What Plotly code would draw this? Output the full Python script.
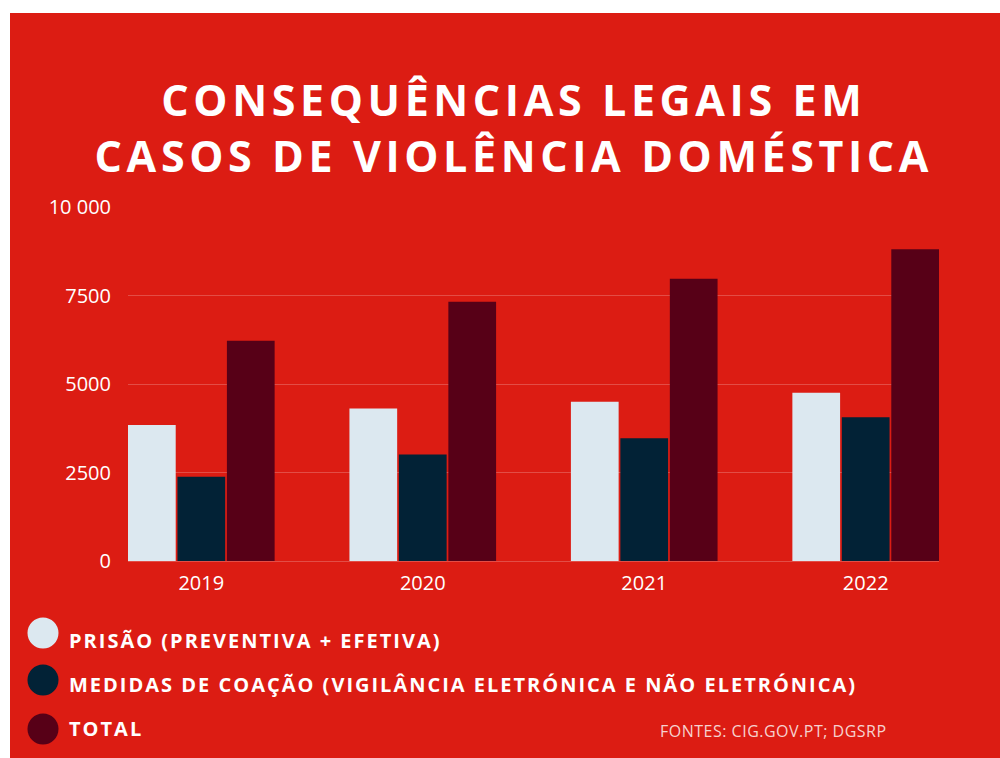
import plotly.graph_objects as go

# ---- data ----
years = ["2019", "2020", "2021", "2022"]
prisao = [3840, 4310, 4500, 4750]
medidas = [2380, 3010, 3470, 4060]
total = [6220, 7320, 7970, 8810]

series_names = [
    "PRISÃO (PREVENTIVA + EFETIVA)",
    "MEDIDAS DE COAÇÃO (VIGILÂNCIA ELETRÓNICA E NÃO ELETRÓNICA)",
    "TOTAL",
]
series_colors = ["#DCE8F0", "#022236", "#570017"]
series_values = [prisao, medidas, total]

ytick_vals = [0, 2500, 5000, 7500, 10000]
ytick_text = ["0", "2500", "5000", "7500", "10 000"]

title_lines = ["CONSEQUÊNCIAS LEGAIS EM", "CASOS DE VIOLÊNCIA DOMÉSTICA"]
source_text = "FONTES: CIG.GOV.PT; DGSRP"

# ---- layout geometry ----
W, H = 1000, 758
L, R, T, B = 128, 61, 207, 197
PW, PH = W - L - R, H - T - B
BG = "#DC1C13"


def px(x):
    return (x - L) / PW


def py(y):
    return (H - B - y) / PH


fig = go.Figure()
for name, color, vals in zip(series_names, series_colors, series_values):
    fig.add_trace(go.Bar(x=years, y=vals, name=name, marker_color=color,
                         marker_line_width=0))

shapes = [
    # white frame strips (top and left)
    dict(type="rect", xref="paper", yref="paper", x0=px(0), x1=px(W), y0=py(13), y1=py(0),
         fillcolor="white", line_width=0, layer="above"),
    dict(type="rect", xref="paper", yref="paper", x0=px(0), x1=px(10), y0=py(H), y1=py(0),
         fillcolor="white", line_width=0, layer="above"),
]

annotations = []
# title (annotation index 0)
annotations.append(dict(text="<br>".join(title_lines), xref="paper", yref="paper",
                        x=px(514), y=py(127), xanchor="center", yanchor="middle",
                        align="center", showarrow=False, borderpad=0,
                        font=dict(family="Open Sans", size=43, color="white", weight=700)))

# custom legend (annotation indices 1..3)
leg_circle_y = [633, 680, 729]
leg_text_y = [640, 684, 728]
for name, color, cy, ty in zip(series_names, series_colors, leg_circle_y, leg_text_y):
    r = 15.5
    shapes.append(dict(type="circle", xref="paper", yref="paper",
                       x0=px(43 - r), x1=px(43 + r), y0=py(cy + r), y1=py(cy - r),
                       fillcolor=color, line_width=0))
    annotations.append(dict(text=name, xref="paper", yref="paper", x=px(67), y=py(ty),
                            xanchor="left", yanchor="middle", align="left", showarrow=False,
                            font=dict(family="Open Sans", size=20, color="white", weight=700)))

# source (annotation index 4)
annotations.append(dict(text=source_text, xref="paper", yref="paper", x=px(658), y=py(731),
                        xanchor="left", yanchor="middle", align="left", showarrow=False,
                        font=dict(family="Open Sans", size=16, color="#F6D2CF")))

fig.update_layout(
    width=W, height=H,
    margin=dict(l=L, r=R, t=T, b=B, pad=0),
    paper_bgcolor=BG, plot_bgcolor="rgba(0,0,0,0)",
    barmode="group", bargap=0.33, bargroupgap=0.035,
    showlegend=False,
    shapes=shapes, annotations=annotations,
    font=dict(family="Open Sans", color="white"),
)
fig.update_xaxes(range=[-0.331, 3.331], showgrid=False, showline=False, zeroline=False,
                 tickfont=dict(size=20, color="white"), ticks="", ticklabelstandoff=8)
fig.update_yaxes(range=[0, 10000], tickvals=ytick_vals, ticktext=ytick_text,
                 showgrid=True, gridcolor="rgba(255,255,255,0.22)", gridwidth=1,
                 zeroline=True, zerolinecolor="rgba(255,255,255,0.22)", zerolinewidth=1,
                 showline=False, ticks="", ticklabelstandoff=16,
                 tickfont=dict(size=20, color="white"))

# letter spacing of the poster-style texts (title, legend labels, source)
spacing_js = """
var gd = document.getElementById('{plot_id}');
var sp = {0: '4.6px', 1: '2px', 2: '2px', 3: '2px', 4: '0.5px'};
Object.keys(sp).forEach(function(i){
  gd.querySelectorAll('g.annotation[data-index="' + i + '"] text.annotation-text')
    .forEach(function(t){ t.style.letterSpacing = sp[i]; });
});
"""

fig.write_html("out.html", post_script=spacing_js)
